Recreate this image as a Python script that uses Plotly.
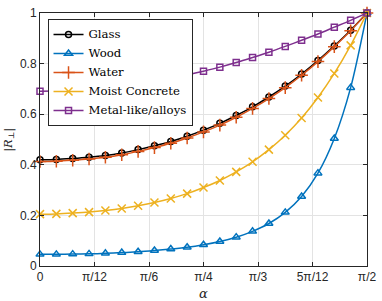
import math
import plotly.graph_objects as go

# angle samples: k * pi/40, k = 0..20
alpha_steps = list(range(21))
alpha = [k * math.pi / 40 for k in alpha_steps]

glass = [0.420, 0.421, 0.425, 0.430, 0.437, 0.447, 0.460, 0.475, 0.492, 0.513, 0.537,
         0.564, 0.595, 0.629, 0.668, 0.711, 0.759, 0.812, 0.870, 0.932, 1.000]
wood = [0.046, 0.046, 0.047, 0.048, 0.050, 0.053, 0.056, 0.061, 0.067, 0.074, 0.084,
        0.097, 0.114, 0.137, 0.168, 0.212, 0.275, 0.367, 0.504, 0.705, 1.000]
water = [0.413, 0.414, 0.418, 0.423, 0.430, 0.440, 0.453, 0.468, 0.485, 0.506, 0.530,
         0.557, 0.588, 0.623, 0.662, 0.705, 0.754, 0.808, 0.867, 0.930, 1.000]
concrete = [0.205, 0.206, 0.209, 0.213, 0.219, 0.227, 0.238, 0.251, 0.267, 0.286, 0.310,
            0.338, 0.372, 0.412, 0.460, 0.517, 0.585, 0.666, 0.761, 0.872, 1.000]
metal = [0.691, 0.692, 0.694, 0.698, 0.704, 0.711, 0.719, 0.730, 0.741, 0.755, 0.770,
         0.786, 0.804, 0.824, 0.845, 0.868, 0.892, 0.917, 0.944, 0.971, 1.000]

tick_vals = [0, math.pi / 12, math.pi / 6, math.pi / 4, math.pi / 3, 5 * math.pi / 12, math.pi / 2]
tick_text = ["0", "π/12", "π/6", "π/4", "π/3", "5π/12", "π/2"]
y_ticks = [0, 0.2, 0.4, 0.6, 0.8, 1]
y_tick_text = ["0", "0.2", "0.4", "0.6", "0.8", "1"]

SERIF = "DejaVu Serif, Liberation Serif, serif"

series = [
    ("Glass", glass, "#000000", "circle-open", 6),
    ("Wood", wood, "#0072BD", "triangle-up-open", 7),
    ("Water", water, "#D95319", "cross-thin-open", 9),
    ("Moist Concrete", concrete, "#EDB120", "x-thin-open", 8),
    ("Metal-like/alloys", metal, "#7E2F8E", "square-open", 6),
]

fig = go.Figure()
for name, vals, color, sym, size in series:
    fig.add_trace(go.Scatter(
        x=alpha, y=vals,
        name='<span style="font-size:11.7px">' + name + '</span>',
        mode="lines+markers",
        line=dict(color=color, width=1.5, shape="spline", smoothing=0.8),
        marker=dict(symbol=sym, size=size, color=color, line=dict(color=color, width=1.5)),
        cliponaxis=False,
    ))

axis_common = dict(
    showline=True, linecolor="#262626", linewidth=1, mirror="ticks",
    ticks="inside", ticklen=4, tickcolor="#262626",
    showgrid=True, gridcolor="#e3e3e3", gridwidth=1, zeroline=False,
    ticklabeloverflow="allow",
    tickfont=dict(family="Liberation Sans", size=12, color="#262626"),
)

fig.update_layout(
    width=382, height=301,
    margin=dict(l=40, r=9, t=6, b=35),
    plot_bgcolor="white", paper_bgcolor="white",
    xaxis=dict(range=[0, math.pi / 2], tickvals=tick_vals, ticktext=tick_text, **axis_common),
    yaxis=dict(range=[0, 1], tickvals=y_ticks, ticktext=y_tick_text, **axis_common),
    legend=dict(x=0.023, y=0.976, xanchor="left", yanchor="top",
                bgcolor="white", bordercolor="#262626", borderwidth=1,
                font=dict(family=SERIF, size=8, color="#000000"),
                tracegroupgap=0, itemwidth=30),
    showlegend=True,
    annotations=[
        dict(text="<i>α</i>", xref="paper", yref="paper", x=0.5, y=-0.11,
             xanchor="center", yanchor="middle", showarrow=False,
             font=dict(family=SERIF, size=13, color="#262626")),
        dict(text="|<i>R</i><sub>⊥</sub>|", xref="paper", yref="paper", x=-0.097, y=0.5,
             xanchor="center", yanchor="middle", showarrow=False, textangle=-90,
             font=dict(family=SERIF, size=11.5, color="#262626")),
    ],
)

fig.write_html("out.html", config={"displayModeBar": False},
               post_script="document.body.style.margin='0';")
